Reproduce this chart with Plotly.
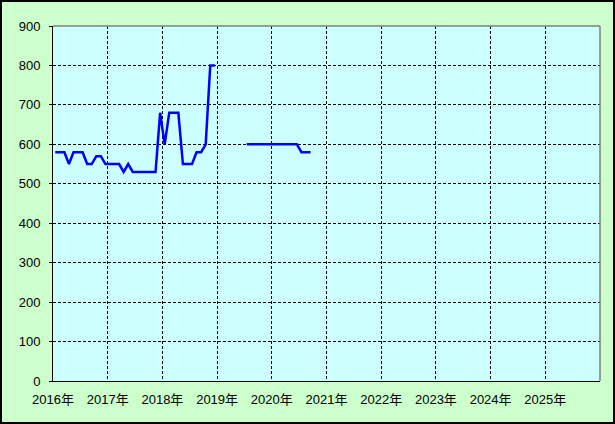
import plotly.graph_objects as go

# Monthly data, Jan 2016 .. Sep 2020 (None = no data)
values_2016 = [580, 580, 580, 550, 580, 580, 580, 550, 550, 570, 570, 550]
values_2017 = [550, 550, 550, 530, 550, 530, 530, 530, 530, 530, 530, 680]
values_2018 = [600, 680, 680, 680, 550, 550, 550, 580, 580, 600, 800, 800]
values_2019 = [None, None, None, None, None, None, 600, 600, 600, 600, 600, 600]
values_2020 = [600, 600, 600, 600, 600, 600, 580, 580, 580]
values = values_2016 + values_2017 + values_2018 + values_2019 + values_2020

year_labels = [f"{y}年" for y in range(2016, 2026)]
y_ticks = list(range(0, 1000, 100))

# category index of each month (Excel-style category axis, 120 months)
month_index = list(range(len(values)))

FONT = "Liberation Sans, Noto Sans CJK JP, sans-serif"

fig = go.Figure()
fig.add_trace(go.Scatter(
    x=month_index, y=values, mode="lines",
    line=dict(color="#0000FF", width=2.5),
    connectgaps=False, hoverinfo="skip", showlegend=False,
))

W, H = 615, 424
L, R, T, B = 53, 15, 26, 43
pw, ph = W - L - R, H - T - B

fig.update_layout(
    width=W, height=H,
    margin=dict(l=L, r=R, t=T, b=B),
    paper_bgcolor="#CCFFCC",
    plot_bgcolor="#CCFFFF",
    font=dict(family=FONT, size=13, color="black"),
    showlegend=False,
)
fig.update_xaxes(
    range=[-0.5, 119.5],
    tickmode="array",
    tickvals=[i * 12 - 0.5 for i in range(len(year_labels))],
    ticktext=year_labels,
    showgrid=True, gridcolor="black", gridwidth=1, griddash="3px,2px",
    showline=True, linecolor="black", linewidth=1,
    ticks="", zeroline=False,
    ticklabelstandoff=6,
)
fig.update_yaxes(
    range=[0, 900],
    tickmode="array", tickvals=y_ticks,
    showgrid=True, gridcolor="black", gridwidth=1, griddash="3px,2px",
    showline=True, linecolor="black", linewidth=1,
    ticks="outside", ticklen=3, tickcolor="black",
    zeroline=False,
    ticklabelstandoff=6,
)
# gray top and right plot border
fig.add_shape(type="line", xref="paper", yref="paper", x0=0, x1=1, y0=1, y1=1,
              line=dict(color="#808080", width=1.5))
fig.add_shape(type="line", xref="paper", yref="paper", x0=1, x1=1, y0=0, y1=1,
              line=dict(color="#808080", width=1.5))
# black outer border around whole chart
fig.add_shape(type="rect", xref="paper", yref="paper",
              x0=-(L - 1) / pw, x1=1 + (R - 1) / pw,
              y0=-(B - 1) / ph, y1=1 + (T - 1) / ph,
              line=dict(color="black", width=2), layer="above")

fig.write_html(
    "out.html",
    config={"displayModeBar": False, "staticPlot": True},
    post_script="document.body.style.margin='0';document.body.style.overflow='hidden';",
)
